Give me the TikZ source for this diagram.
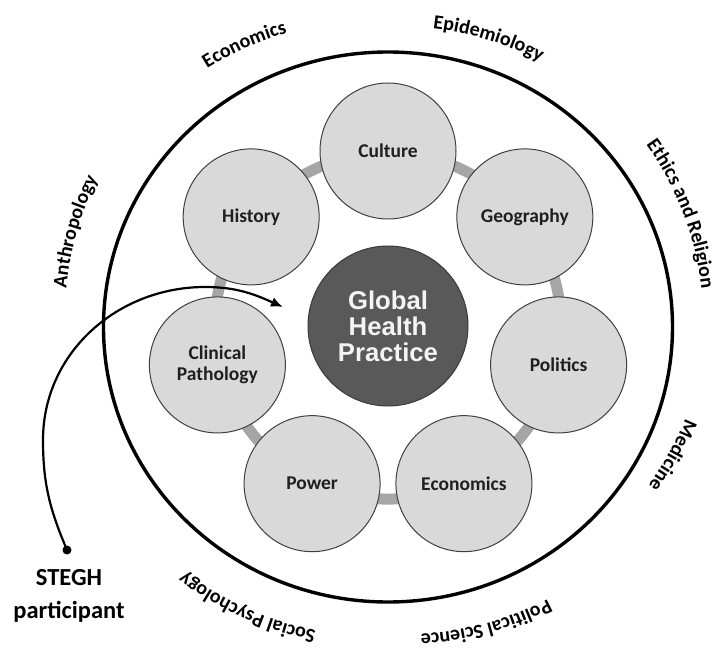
\documentclass[tikz,border=0pt]{standalone}
\usepackage{fontspec}
\setmainfont{Carlito}
\newfontfamily\ghfont{Liberation Sans}
\usetikzlibrary{arrows.meta,backgrounds,decorations.text,calc}

\definecolor{topicfill}{HTML}{D9D9D9}
\definecolor{topicline}{HTML}{404040}
\definecolor{topictext}{HTML}{1F1F1F}
\definecolor{corefill}{HTML}{595959}
\definecolor{coreline}{HTML}{3A3A3A}
\definecolor{coretext}{HTML}{F4F4F4}
\definecolor{linkgray}{HTML}{A6A6A6}

\newcommand\fieldfont{\bfseries\fontsize{20}{24}\selectfont}

\begin{document}
\begin{tikzpicture}[x=1pt,y=1pt,
  topic/.style={circle, draw=topicline, line width=1pt, fill=topicfill,
    minimum size=136pt, inner sep=0pt, align=center, text=topictext,
    font=\bfseries\fontsize{19.5}{21.5}\selectfont},
  core/.style={circle, draw=coreline, line width=1pt, fill=corefill,
    minimum size=160pt, inner sep=0pt, align=center, text=coretext,
    font=\ghfont\bfseries\fontsize{25.7}{26}\selectfont},
  link/.style={draw=linkgray, line width=11pt, bend right=25.7, looseness=0.8},
  field/.style={decorate, decoration={text along path, text align=center,
    text={|\fieldfont|#1}}},
  journey/.style={line width=2.2pt, -{Latex[length=12pt,width=10pt]}},
  frame/.style={line width=3.4pt},
]
\useasboundingbox (0,0) rectangle (715,649);

\coordinate (C) at (388,323);

% outer boundary of the disciplines
\draw[frame] (388,322) ellipse [x radius=284.5, y radius=275];

% core and the seven surrounding topics
\node[core] (ghp) at (C) {Global\\Health\\Practice};
\foreach \name/\k/\txt in {culture/0/{Culture}, history/1/{History},
    clinical/2/{Clinical\\Pathology}, power/3/{Power},
    economics/4/{Economics}, politics/5/{Politics}, geography/6/{Geography}}
  \node[topic] (\name) at ([shift={({90+\k*360/7}:175)}]C) {\txt};

% grey ring segments joining neighbouring topics
\begin{pgfonlayer}{background}
  \foreach \a/\b in {culture/history, history/clinical, clinical/power,
      power/economics, economics/politics, politics/geography,
      geography/culture}
    \draw[link] (\a.center) to (\b.center);
\end{pgfonlayer}

% disciplines written along the outer ring
\path[field={Economics}] ($(246,601)+(144:310)-(114:310)$)
  arc[start angle=144, end angle=84, radius=310];
\path[field={Epidemiology}] ($(488,609)+(103:310)-(73:310)$)
  arc[start angle=103, end angle=43, radius=310];
\path[field={Ethics and Religion}] ($(683,436)+(51:310)-(21:310)$)
  arc[start angle=51, end angle=-9, radius=310];
\path[field={Medicine}] ($(669,196)+(1:310)-(-29:310)$)
  arc[start angle=1, end angle=-59, radius=310];
\path[field={Political Science}] ($(486,25.5)+(-45:310)-(-75:310)$)
  arc[start angle=-45, end angle=-105, radius=310];
\path[field={Social Psychology}] ($(247,40)+(-84:310)-(-114:310)$)
  arc[start angle=-84, end angle=-144, radius=310];
\path[field={Anthropology}] ($(77,417)+(194:310)-(164:310)$)
  arc[start angle=194, end angle=134, radius=310];

% participant entering the practice
\node[circle, fill=black, inner sep=0pt, minimum size=9pt] (start) at (67,99) {};
\node[align=center, font=\bfseries\fontsize{24.5}{33}\selectfont] (stegh)
  at (69,53) {STEGH\\participant};
\coordinate (sweepL) at (43,209);
\coordinate (sweepT) at (205,362);
\coordinate (tip) at (283,342);
\draw[journey] (start.center) to[out=113, in=-90] (sweepL)
  to[out=90, in=180] (sweepT) to[out=0, in=156] (tip);
\end{tikzpicture}
\end{document}
